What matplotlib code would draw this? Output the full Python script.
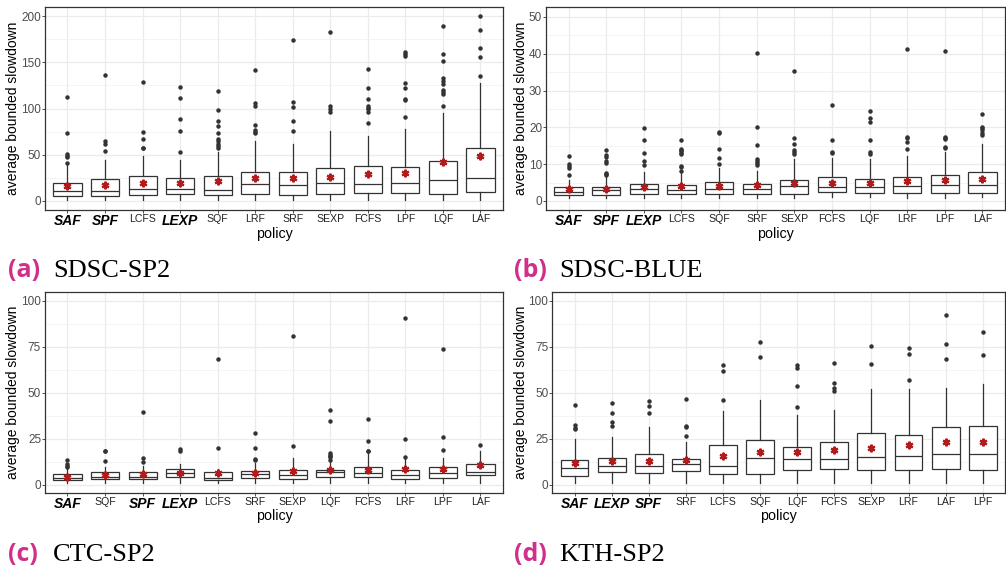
import matplotlib
matplotlib.use("Agg")
import matplotlib.pyplot as plt
import matplotlib.transforms as mtransforms
from matplotlib.ticker import MultipleLocator

plt.rcParams['font.family'] = ['Liberation Sans', 'DejaVu Sans']

#### __data__ ####

# (a) SDSC-SP2
a_labels = ["SAF", "SPF", "LCFS", "LEXP", "SQF", "LRF", "SRF", "SEXP", "FCFS", "LPF", "LQF", "LAF"]
a_q1 = [5, 5, 6.5, 7, 6.1, 7.2, 6.1, 7, 8.3, 8.3, 7.2, 9.4]
a_med = [10.8, 11, 12.7, 12.7, 11.6, 18, 17, 18.8, 18, 18.8, 22.8, 24.6]
a_q3 = [19.5, 23.5, 26.4, 24.6, 26.8, 31.5, 30.7, 35, 38, 36.5, 43, 57]
a_wlo = [0.8, 0.8, 0.8, 0.8, 0.8, 0.8, 0.8, 0.8, 0.8, 0.8, 0.8, 0.8]
a_whi = [39, 44.5, 48, 44.5, 53, 65, 61, 76, 70.5, 77.8, 95, 127.7]
a_mean = [16, 17, 19.5, 19.5, 21, 24.6, 24.6, 25.3, 28.6, 30.4, 42, 48.5]
a_out = [[112, 73, 51, 49, 47, 41],
         [136, 65, 62, 54],
         [129, 75, 67, 57, 57],
         [123, 111, 89, 76, 53],
         [119, 98, 87, 81, 73, 67, 65, 62, 59, 57],
         [142, 106, 103, 82, 77, 75, 73],
         [174, 107, 102, 87, 76],
         [183, 103, 99, 96],
         [143, 122, 110, 103, 101, 99, 96, 84],
         [161, 159, 157, 128, 122, 110, 109, 91],
         [189, 159, 152, 133, 130, 127, 120, 118, 116, 103],
         [200, 185, 166, 156, 135]]

# (b) SDSC-BLUE
b_labels = ["SAF", "SPF", "LEXP", "LCFS", "SQF", "SRF", "SEXP", "FCFS", "LQF", "LRF", "LPF", "LAF"]
b_q1 = [1.5, 1.7, 1.9, 1.8, 1.8, 1.9, 1.9, 2.4, 2.3, 2.1, 2.1, 2.3]
b_med = [2.5, 2.9, 3.3, 3.0, 3.2, 3.2, 4.1, 3.9, 3.7, 4.2, 4.4, 4.4]
b_q3 = [3.7, 3.9, 4.5, 4.4, 5.1, 4.6, 5.7, 6.4, 6.1, 6.6, 7.0, 7.8]
b_wlo = [0.8, 0.8, 0.9, 0.8, 0.8, 0.9, 0.9, 1.0, 1.0, 0.9, 0.9, 1.0]
b_whi = [5.7, 6.4, 7.8, 7.8, 8.9, 8.2, 11.3, 11.6, 11.4, 12.3, 13.2, 15.5]
b_mean = [3.2, 3.2, 3.9, 4.0, 4.2, 4.4, 4.8, 5.0, 5.0, 5.4, 5.6, 5.9]
b_out = [[12.2, 10, 9.5, 9, 7],
         [13.8, 12.5, 12, 11, 10.3, 7.7, 7.3, 7],
         [19.9, 16.6, 13, 11, 9.7],
         [16.7, 14.2, 13.8, 13.5, 13, 12.8, 9.5, 9.3, 8.2],
         [18.8, 18.5, 14, 11.8, 10.1],
         [40.2, 20, 15.2, 11.5, 11, 10.2, 9.8],
         [35.2, 17.2, 15.6, 13.8, 13.3, 12.8],
         [26, 16.7, 13.3, 13],
         [24.5, 22.6, 21.4, 16.6, 13.3, 12.8],
         [41.3, 17.5, 17, 16, 14],
         [40.7, 17.4, 17, 16.8, 14.8, 14.5],
         [23.6, 20.2, 19.8, 19.2, 18.5, 17.8]]

# (c) CTC-SP2
c_labels = ["SAF", "SQF", "SPF", "LEXP", "LCFS", "SRF", "SEXP", "LQF", "FCFS", "LRF", "LPF", "LAF"]
c_q1 = [2.5, 2.9, 2.9, 4.0, 2.7, 3.4, 2.9, 4.3, 4.0, 3.3, 3.8, 5.1]
c_med = [3.4, 4.0, 4.0, 6.2, 3.6, 5.6, 5.4, 6.9, 6.5, 5.3, 6.5, 7.1]
c_q3 = [5.6, 6.7, 6.7, 8.3, 6.7, 7.2, 7.8, 8.2, 9.4, 7.8, 9.6, 11.2]
c_wlo = [1, 1, 1, 1, 1, 1, 1, 1, 1, 1, 1, 1]
c_whi = [8.5, 9.5, 10, 11, 8.5, 12, 14.3, 12.5, 17, 14.5, 14.7, 18.5]
c_mean = [4.3, 5.4, 6.0, 6.2, 6.5, 6.5, 7.4, 7.8, 8.2, 8.3, 8.5, 10.7]
c_out = [[13.4, 11, 10, 9.5],
         [18.5, 18, 12.7],
         [39.3, 14.5, 12.3],
         [19.6, 18],
         [68.5, 19.8],
         [28.3, 19.9, 14, 13.3],
         [81, 21],
         [40.3, 34.5, 17, 16.3, 15.8, 14.8, 13.3],
         [35.6, 23.6, 18.5, 18.3],
         [90.7, 25, 14.8],
         [74, 26, 18.7],
         [21.3]]

# (d) KTH-SP2
d_labels = ["SAF", "LEXP", "SPF", "SRF", "LCFS", "SQF", "LQF", "FCFS", "SEXP", "LRF", "LAF", "LPF"]
d_q1 = [4.9, 6.7, 6.2, 7.4, 5.6, 5.6, 8.0, 8.5, 8.2, 7.8, 8.5, 7.8]
d_med = [8.9, 10.3, 10.1, 11.4, 10.0, 14.5, 13.8, 13.8, 15.2, 15.6, 16.5, 16.9]
d_q3 = [13.6, 14.5, 16.9, 13.8, 21.7, 24.1, 20.7, 23.0, 28.3, 27.2, 31.2, 32.0]
d_wlo = [1, 1, 1, 1, 1, 1, 1, 1, 1, 1, 1, 1]
d_whi = [25, 26, 31.3, 23, 40, 45.8, 37.7, 40.6, 52, 52, 52.7, 54.5]
d_mean = [11.6, 13.0, 13.0, 13.4, 15.8, 17.6, 17.9, 19.0, 19.9, 21.6, 23.0, 23.0]
d_out = [[43.3, 32.2, 31, 30],
         [44.4, 38.7, 34.3, 31.6],
         [45.4, 42.5, 38.8],
         [46.5, 32, 31.5, 26.5],
         [64.9, 61.5, 45.8],
         [77.4, 69.5],
         [65.2, 63.4, 53.8, 42.3],
         [66, 55, 52.5, 51],
         [75.6, 65.4],
         [74.4, 71, 56.9],
         [92, 76.4, 68.3],
         [82.8, 70.2]]

highlight = ["SAF", "SPF", "LEXP"]


#### __plot function__ ####

def draw_panel(fig, ax, labels, q1, med, q3, wlo, whi, mean, outliers, ylim, major, label_x):
    stats = []
    for i in range(len(labels)):
        stats.append({"label": labels[i], "q1": q1[i], "med": med[i], "q3": q3[i],
                      "whislo": wlo[i], "whishi": whi[i], "fliers": outliers[i]})
    pos = list(range(1, len(labels) + 1))
    line = dict(color="#333333", linewidth=0.9)
    ax.bxp(stats, positions=pos, widths=0.75, patch_artist=True, showcaps=False,
           boxprops=dict(facecolor="white", edgecolor="#333333", linewidth=0.9),
           medianprops=line, whiskerprops=line,
           flierprops=dict(marker="o", markersize=2.2, markerfacecolor="#333333",
                           markeredgecolor="#333333"), zorder=3)
    ax.plot(pos, mean, linestyle="none", marker=(6, 2, 0), markersize=5.5,
            markeredgewidth=1.6, color="#b01c1c", zorder=5)

    ax.set_xlim(0.4, len(labels) + 0.6)
    ax.set_ylim(*ylim)
    ax.yaxis.set_major_locator(MultipleLocator(major))
    ax.yaxis.set_minor_locator(MultipleLocator(major / 2))
    ax.set_xticks(pos)
    ax.set_xticklabels(labels)
    for t in ax.get_xticklabels():
        if t.get_text() in highlight:
            t.set_fontweight("bold")
            t.set_fontstyle("italic")
            t.set_fontsize(10)
            t.set_color("black")
        else:
            t.set_fontsize(7.6)
            t.set_color("#222222")

    ax.grid(True, which="major", color="#ebebeb", linewidth=0.9, zorder=0)
    ax.grid(True, which="minor", axis="y", color="#f2f2f2", linewidth=0.6, zorder=0)
    ax.set_axisbelow(True)
    ax.tick_params(axis="y", which="major", labelsize=8.5, labelcolor="#4d4d4d",
                   color="#333333", length=2, width=0.6, pad=0.8)
    ax.tick_params(axis="y", which="minor", length=0)
    ax.tick_params(axis="x", color="#333333", length=2, width=0.6, pad=1)
    for s in ax.spines.values():
        s.set_color("#333333")
        s.set_linewidth(0.9)
    ax.set_ylabel("average bounded slowdown", fontsize=10)
    trans = mtransforms.blended_transform_factory(fig.transFigure, ax.transAxes)
    ax.yaxis.set_label_coords(label_x, 0.5, transform=trans)
    ax.set_xlabel("policy", fontsize=10.3, labelpad=-1)


def caption(fig, x, y, tag, name):
    fig.text(x, y, tag, fontsize=18, fontweight="bold", color="#d02f8a",
             family=["Open Sans", "DejaVu Sans"], va="baseline")
    fig.text(x + 45 / 1006, y, name, fontsize=19, color="black",
             family=["Liberation Serif", "DejaVu Serif"], va="baseline")


def main():
    fig = plt.figure(figsize=(10.06, 5.69), dpi=100)

    ax_a = fig.add_axes([0.0447, 0.6309, 0.4553, 0.3568])
    ax_b = fig.add_axes([0.5427, 0.6309, 0.4563, 0.3568])
    ax_c = fig.add_axes([0.0447, 0.1341, 0.4553, 0.3533])
    ax_d = fig.add_axes([0.5490, 0.1341, 0.4500, 0.3533])

    left_lab = 20 / 1006
    right_lab = 528 / 1006
    draw_panel(fig, ax_a, a_labels, a_q1, a_med, a_q3, a_wlo, a_whi, a_mean, a_out, (-10, 210), 50, left_lab)
    draw_panel(fig, ax_b, b_labels, b_q1, b_med, b_q3, b_wlo, b_whi, b_mean, b_out, (-2.45, 52.7), 10, right_lab)
    draw_panel(fig, ax_c, c_labels, c_q1, c_med, c_q3, c_wlo, c_whi, c_mean, c_out, (-4.4, 104.9), 25, left_lab)
    draw_panel(fig, ax_d, d_labels, d_q1, d_med, d_q3, d_wlo, d_whi, d_mean, d_out, (-4.4, 104.9), 25, right_lab)

    caption(fig, 8 / 1006, 1 - 277 / 569, "(a)", "SDSC-SP2")
    caption(fig, 514 / 1006, 1 - 277 / 569, "(b)", "SDSC-BLUE")
    caption(fig, 8 / 1006, 1 - 561 / 569, "(c)", "CTC-SP2")
    caption(fig, 514 / 1006, 1 - 561 / 569, "(d)", "KTH-SP2")

    fig.savefig("out.png", dpi=100)


if __name__ == "__main__":
    main()
